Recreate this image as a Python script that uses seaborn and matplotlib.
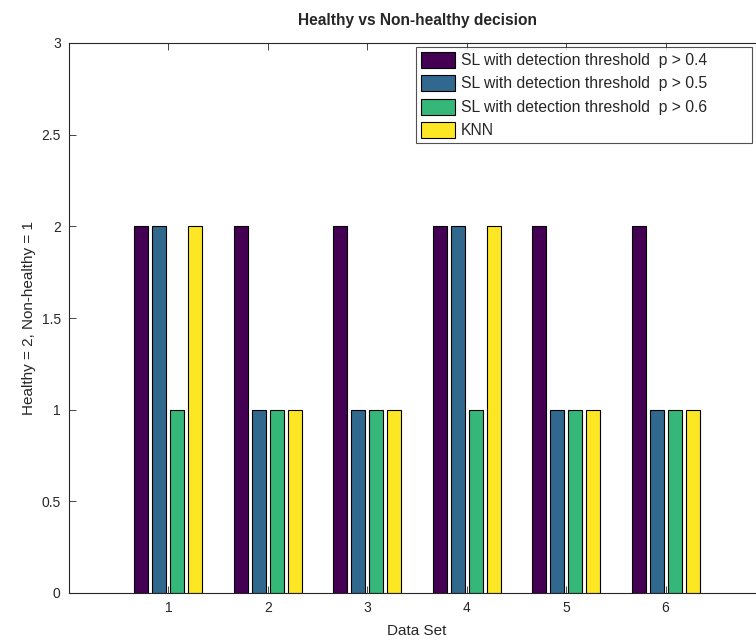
import matplotlib
matplotlib.use("Agg")
import matplotlib.pyplot as plt
import seaborn as sns
import pandas as pd

# Data
data_sets = [1, 2, 3, 4, 5, 6]
sl_04 = [2, 2, 2, 2, 2, 2]
sl_05 = [2, 1, 1, 2, 1, 1]
sl_06 = [1, 1, 1, 1, 1, 1]
knn = [2, 1, 1, 2, 1, 1]
series_names = [
    "SL with detection threshold  p > 0.4",
    "SL with detection threshold  p > 0.5",
    "SL with detection threshold  p > 0.6",
    "KNN",
]
colors = ["#440154", "#31688e", "#35b779", "#fde725"]

rows = []
for name, vals in zip(series_names, [sl_04, sl_05, sl_06, knn]):
    for ds, v in zip(data_sets, vals):
        rows.append({"Data Set": ds, "value": v, "series": name})
df = pd.DataFrame(rows)

sns.set_style("ticks")
plt.rcParams["font.family"] = ["Liberation Sans", "DejaVu Sans"]

fig = plt.figure(figsize=(7.56, 6.4), dpi=100)
ax = fig.add_axes([69 / 756, 1 - 593 / 640, 696 / 756, 550 / 640])

sns.barplot(data=df, x="Data Set", y="value", hue="series", hue_order=series_names,
            palette=colors, native_scale=True, width=0.724, gap=0.22,
            edgecolor="black", linewidth=0.8, saturation=1, ax=ax)

ax.set_xlim(0, 7)
ax.set_ylim(0, 3)
ax.set_xticks(data_sets)
ax.set_yticks([0, 0.5, 1, 1.5, 2, 2.5, 3])
ax.set_yticklabels(["0", "0.5", "1", "1.5", "2", "2.5", "3"])
ax.tick_params(direction="in", top=True, right=True, labelsize=10, colors="#262626",
               length=5, width=0.6, pad=6)
for s in ax.spines.values():
    s.set_visible(True)
    s.set_linewidth(0.8)
    s.set_color("#262626")

ax.set_xlabel("Data Set", fontsize=11, color="#262626", labelpad=6)
ax.set_ylabel("Healthy = 2, Non-healthy = 1", fontsize=11, color="#262626", labelpad=4)
ax.set_title("Healthy vs Non-healthy decision", fontsize=11.2, fontweight="bold", pad=13)

ax.get_legend().remove()
handles, labels = ax.get_legend_handles_labels()
leg = fig.legend(handles, labels, loc="upper left", mode="expand",
                 bbox_to_anchor=(416 / 756, 0, 336 / 756, 1 - 47 / 640),
                 bbox_transform=fig.transFigure,
                 fontsize=11.3, frameon=True, fancybox=False, edgecolor="#262626",
                 handlelength=2.2, handleheight=1.2, handletextpad=0.35, labelspacing=0.45,
                 borderpad=0.3, borderaxespad=0)
leg.get_frame().set_linewidth(0.8)

fig.savefig("out.png", dpi=100)
